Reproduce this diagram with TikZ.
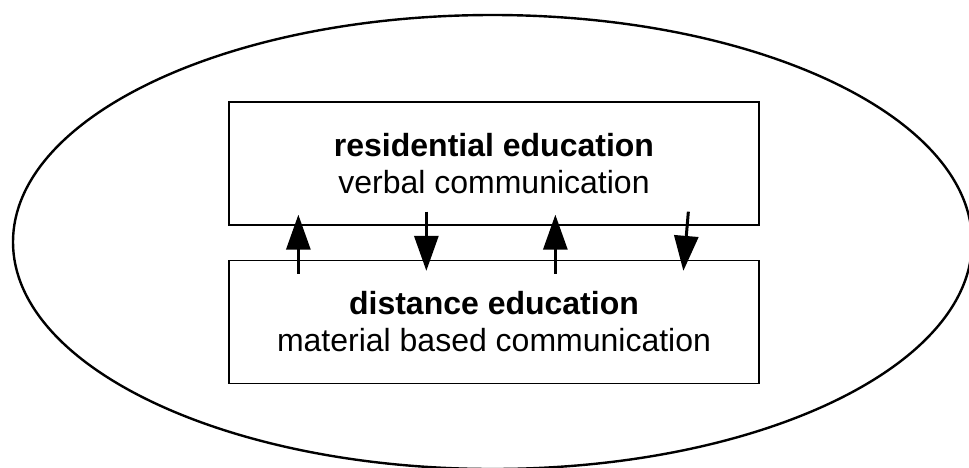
\documentclass[tikz,border=0pt]{standalone}
\usepackage{fontspec}
\setmainfont{Liberation Sans}
\usetikzlibrary{arrows.meta}

\begin{document}
\begin{tikzpicture}[x=1pt,y=-1pt,line cap=butt,line join=miter,
  edubox/.style={draw,line width=1.3pt,minimum width=530pt,minimum height=123pt,inner sep=0pt,
    align=center,font=\fontsize{32}{37}\selectfont},
  flow/.style={line width=3pt,-{Triangle[length=35pt,width=24pt]}}]
  \useasboundingbox (0,0) rectangle (969,467);
  \clip (0,0) rectangle (969,467);
  \draw[line width=2.4pt] (492.5,242) ellipse [x radius=479.5pt,y radius=227pt];
  \node[edubox] (res) at (494,163.5) {\textbf{residential education}\\verbal communication};
  \node[edubox] (dis) at (494,322) {\textbf{distance education}\\material based communication};
  \draw[flow] ([xshift=70pt,yshift=-14pt]dis.north west) -- ([xshift=70pt,yshift=11pt]res.south west);
  \draw[flow] ([xshift=198pt,yshift=14pt]res.south west) -- ([xshift=198pt,yshift=-11pt]dis.north west);
  \draw[flow] ([xshift=327pt,yshift=-14pt]dis.north west) -- ([xshift=327pt,yshift=11pt]res.south west);
  \draw[flow] ([xshift=460pt,yshift=14pt]res.south west) -- ([xshift=455pt,yshift=-11pt]dis.north west);
\end{tikzpicture}
\end{document}
